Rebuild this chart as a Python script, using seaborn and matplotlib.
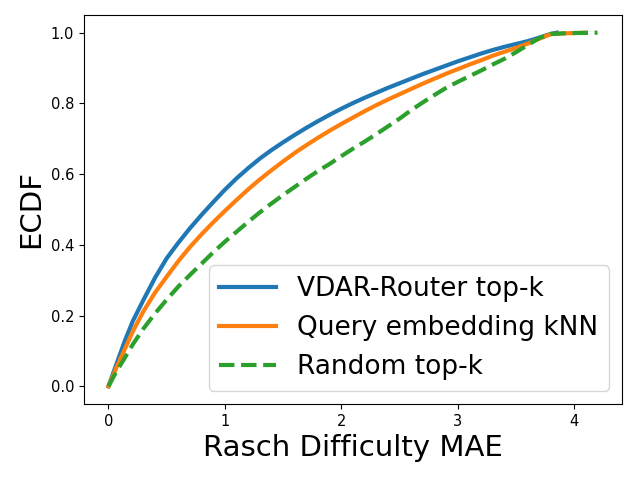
import matplotlib
matplotlib.use("Agg")
import matplotlib.pyplot as plt
import seaborn as sns
import pandas as pd

series_names = ["VDAR-Router top-k", "Query embedding kNN", "Random top-k"]

vdar_x = [0, 0.07, 0.14, 0.21, 0.30, 0.40, 0.50, 0.60, 0.70, 0.80, 0.90, 1.00, 1.10, 1.20, 1.30,
          1.40, 1.50, 1.60, 1.70, 1.80, 1.90, 2.00, 2.10, 2.20, 2.30, 2.40, 2.50, 2.60, 2.70,
          2.80, 2.90, 3.00, 3.10, 3.20, 3.30, 3.40, 3.50, 3.60, 3.70, 3.80, 3.85]
vdar_y = [0, 0.064, 0.128, 0.185, 0.244, 0.307, 0.362, 0.406, 0.447, 0.485, 0.521, 0.556, 0.588,
          0.617, 0.644, 0.668, 0.690, 0.711, 0.731, 0.750, 0.768, 0.785, 0.801, 0.816, 0.830,
          0.844, 0.857, 0.870, 0.883, 0.895, 0.907, 0.919, 0.930, 0.941, 0.951, 0.960, 0.968,
          0.976, 0.986, 0.997, 1.0]

knn_x = [0, 0.07, 0.14, 0.21, 0.30, 0.40, 0.50, 0.60, 0.70, 0.80, 0.90, 1.00, 1.10, 1.20, 1.30,
         1.40, 1.50, 1.60, 1.70, 1.80, 1.90, 2.00, 2.10, 2.20, 2.30, 2.40, 2.50, 2.60, 2.70,
         2.80, 2.90, 3.00, 3.10, 3.20, 3.30, 3.40, 3.50, 3.60, 3.70, 3.80, 3.90, 4.00, 4.10]
knn_y = [0, 0.054, 0.105, 0.156, 0.212, 0.265, 0.310, 0.354, 0.394, 0.430, 0.464, 0.496, 0.527,
         0.557, 0.585, 0.611, 0.636, 0.660, 0.682, 0.703, 0.723, 0.742, 0.760, 0.778, 0.795,
         0.811, 0.826, 0.841, 0.856, 0.870, 0.884, 0.897, 0.910, 0.922, 0.935, 0.946, 0.957,
         0.969, 0.983, 0.996, 0.998, 0.999, 1.0]

rand_x = [0, 0.06, 0.13, 0.21, 0.30, 0.40, 0.50, 0.60, 0.70, 0.80, 0.90, 1.00, 1.10, 1.20, 1.30,
          1.40, 1.50, 1.60, 1.70, 1.80, 1.90, 2.00, 2.10, 2.20, 2.30, 2.40, 2.50, 2.60, 2.70,
          2.80, 2.90, 3.00, 3.10, 3.20, 3.30, 3.40, 3.50, 3.60, 3.70, 3.80, 3.90, 4.00, 4.10, 4.20]
rand_y = [0, 0.037, 0.075, 0.119, 0.163, 0.206, 0.245, 0.282, 0.315, 0.347, 0.379, 0.409, 0.437,
          0.465, 0.492, 0.517, 0.541, 0.564, 0.587, 0.609, 0.629, 0.651, 0.672, 0.692, 0.713,
          0.735, 0.757, 0.781, 0.803, 0.824, 0.844, 0.861, 0.877, 0.893, 0.910, 0.926, 0.945,
          0.965, 0.985, 0.996, 0.998, 0.999, 0.9995, 1.0]

frames = []
for name, xs, ys in zip(series_names, [vdar_x, knn_x, rand_x], [vdar_y, knn_y, rand_y]):
    frames.append(pd.DataFrame({"mae": xs, "ecdf": ys, "method": name}))
df = pd.concat(frames, ignore_index=True)

fig = plt.figure(figsize=(6.38, 4.79), dpi=100)
ax = fig.add_axes([84 / 638, (479 - 404) / 479, (622 - 84) / 638, (404 - 15) / 479])

palette = {series_names[0]: "#1f77b4", series_names[1]: "#ff7f0e", series_names[2]: "#2ca02c"}
dashes = {series_names[0]: "", series_names[1]: "", series_names[2]: (3.7, 1.6)}
sns.lineplot(data=df, x="mae", y="ecdf", hue="method", style="method",
             palette=palette, dashes=dashes, linewidth=3, sort=False,
             estimator=None, ax=ax)

ax.set_xlabel("Rasch Difficulty MAE", fontsize=21)
ax.set_ylabel("ECDF", fontsize=21)
ax.set_xticks([0, 1, 2, 3, 4])
ax.set_yticks([0.0, 0.2, 0.4, 0.6, 0.8, 1.0])
ax.tick_params(labelsize=10.5)
leg = ax.legend(loc="lower right", fontsize=19, handlelength=2.15)
for line in leg.get_lines():
    line.set_linewidth(3)

fig.savefig("out.png", dpi=100)
